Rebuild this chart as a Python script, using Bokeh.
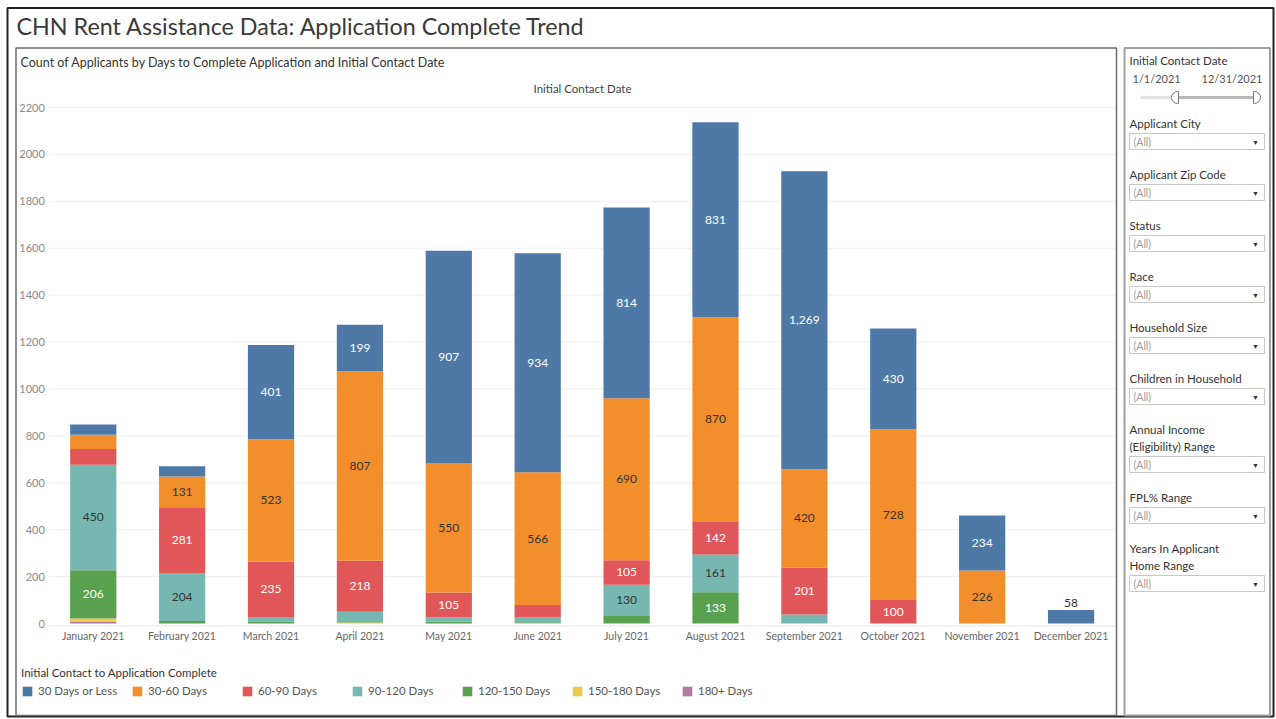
from bokeh.plotting import figure
from bokeh.models import (ColumnDataSource, Range1d, FixedTicker, LinearScale,
                          Label, BoxAnnotation, Legend, LegendItem)
from bokeh.core.properties import value
from bokeh.embed import file_html
from bokeh.resources import INLINE

# ---------------- data ----------------
months = ["January 2021", "February 2021", "March 2021", "April 2021", "May 2021",
          "June 2021", "July 2021", "August 2021", "September 2021", "October 2021",
          "November 2021", "December 2021"]
categories = ["30 Days or Less", "30-60 Days", "60-90 Days", "90-120 Days",
              "120-150 Days", "150-180 Days", "180+ Days"]
colors = ["#4e79a7", "#f28e2b", "#e15759", "#76b7b2", "#59a14f", "#edc948", "#b07aa1"]
label_colors = ["white", "#333333", "white", "#333333", "white", "#333333", "white"]

d_30_or_less = [43, 43, 401, 199, 907, 934, 814, 831, 1269, 430, 234, 58]
d_30_60 = [61, 131, 523, 807, 550, 566, 690, 870, 420, 728, 226, 0]
d_60_90 = [67, 281, 235, 218, 105, 53, 105, 142, 201, 100, 0, 0]
d_90_120 = [450, 204, 20, 40, 20, 21, 130, 161, 38, 0, 0, 0]
d_120_150 = [206, 11, 8, 6, 7, 4, 35, 133, 0, 0, 0, 0]
d_150_180 = [15, 0, 0, 4, 0, 1, 0, 0, 0, 0, 0, 0]
d_180_plus = [6, 0, 0, 0, 0, 0, 0, 0, 0, 0, 0, 0]
series = [d_30_or_less, d_30_60, d_60_90, d_90_120, d_120_150, d_150_180, d_180_plus]

y_ticks = [0, 200, 400, 600, 800, 1000, 1200, 1400, 1600, 1800, 2000, 2200]

title_text = "CHN Rent Assistance Data: Application Complete Trend"
subtitle_text = "Count of Applicants by Days to Complete Application and Initial Contact Date"
header_text = "Initial Contact Date"
legend_title = "Initial Contact to Application Complete"
slider_title = "Initial Contact Date"
slider_start = "1/1/2021"
slider_end = "12/31/2021"
filters = [["Applicant City"], ["Applicant Zip Code"], ["Status"], ["Race"],
           ["Household Size"], ["Children in Household"],
           ["Annual Income", "(Eligibility) Range"], ["FPL%  Range"],
           ["Years In Applicant", "Home Range"]]
filter_value = "(All)"

FONT = "Lato"

# ---------------- layout geometry (page pixels) ----------------
W, H = 1276, 719
X0, X1 = 48.3, 1115.0          # plot area left/right
Y_ZERO, Y_TOP_TICK = 623.0, 107.0  # page y of value 0 and of 2200
kx = (X1 - X0) / len(months)
ky = (Y_ZERO - Y_TOP_TICK) / y_ticks[-1]

p = figure(width=W, height=H,
           x_range=Range1d(-X0 / kx, (W - X0) / kx),
           y_range=Range1d((Y_ZERO - H) / ky, Y_ZERO / ky),
           output_backend="svg", toolbar_location=None,
           min_border_left=0, min_border_right=0, min_border_top=0, min_border_bottom=0)
p.background_fill_color = "white"
p.border_fill_color = "white"
p.outline_line_color = None

# page-pixel coordinate system
p.extra_x_ranges = {"px": Range1d(0, W)}
p.extra_x_scales = {"px": LinearScale()}
p.extra_y_ranges = {"py": Range1d(H, 0)}
p.extra_y_scales = {"py": LinearScale()}

# gridlines within plot area
grid_vals = [t for t in y_ticks if t > 0]
p.segment(x0=[X0] * len(grid_vals), x1=[X1] * len(grid_vals),
          y0=[Y_ZERO - v * ky for v in grid_vals], y1=[Y_ZERO - v * ky for v in grid_vals],
          x_range_name="px", y_range_name="py", line_color="#f0f0f0", line_width=1)
p.segment(x0=[X0], x1=[X1], y0=[625.5], y1=[625.5], x_range_name="px", y_range_name="py",
          line_color="#e6e6e6", line_width=1)

xpos = [i + 0.5 for i in range(len(months))]
keys = ["s%d" % i for i in range(7)]
data = {"x": xpos}
for k, s in zip(keys, series):
    data[k] = s
src = ColumnDataSource(data)

stack_order = list(reversed(range(7)))  # bottom (180+) to top (30 or less)
rends = p.vbar_stack([keys[i] for i in stack_order], x="x", width=0.52,
                     color=[colors[i] for i in stack_order], line_color=None,
                     source=src)
rmap = {i: r for i, r in zip(stack_order, rends)}

# labels inside segments
lx, ly, lt, lc = [], [], [], []
ax, ay, at = [], [], []
for j, xv in enumerate(xpos):
    base = 0
    for i in stack_order:
        v = series[i][j]
        if v >= 100:
            lx.append(xv); ly.append(base + v / 2.0); lt.append(f"{v:,}"); lc.append(label_colors[i])
        base += v
    if base < 100:
        ax.append(xv); ay.append(base); at.append(f"{base:,}")

p.text(x="x", y="y", text="t", text_color="c",
       source=ColumnDataSource(dict(x=lx, y=ly, t=lt, c=lc)),
       text_font=value(FONT), text_font_size=value("12px"),
       text_align="center", text_baseline="middle")
p.text(x="x", y="y", text="t",
       source=ColumnDataSource(dict(x=ax, y=ay, t=at)),
       text_font=value(FONT), text_font_size=value("12px"), text_color="#333333",
       text_align="center", text_baseline="bottom", y_offset=-3)

# axes drawn inside the frame at fixed locations
p.yaxis.fixed_location = 0
p.yaxis.ticker = FixedTicker(ticks=y_ticks)
p.yaxis.axis_line_color = None
p.yaxis.major_tick_line_color = None
p.yaxis.minor_tick_line_color = None
p.yaxis.major_tick_out = 0
p.yaxis.major_tick_in = 0
p.yaxis.major_label_text_font = FONT
p.yaxis.major_label_text_font_size = "11px"
p.yaxis.major_label_text_color = "#8a8a8a"
p.yaxis.major_label_standoff = 4

p.xaxis.fixed_location = (Y_ZERO - 625.5) / ky
p.xaxis.ticker = FixedTicker(ticks=xpos)
p.xaxis.major_label_overrides = {xv: m for xv, m in zip(xpos, months)}
p.xaxis.axis_line_color = None
p.xaxis.major_tick_line_color = None
p.xaxis.minor_tick_line_color = None
p.xaxis.major_tick_out = 0
p.xaxis.major_tick_in = 0
p.xaxis.major_label_text_font = FONT
p.xaxis.major_label_text_font_size = "10.5px"
p.xaxis.major_label_text_color = "#666666"
p.xaxis.major_label_standoff = 4

p.xgrid.visible = False
p.ygrid.visible = False

# legend
items = [LegendItem(label=categories[i], renderers=[rmap[i]]) for i in range(7)]
leg = Legend(items=items, orientation="horizontal", location=(21, H - 697),
             title=legend_title, title_text_font=FONT, title_text_font_size="11.5px",
             title_text_color="#333333", title_text_font_style="normal", title_standoff=5,
             label_text_font=FONT, label_text_font_size="11.5px", label_text_color="#555555",
             glyph_width=12, glyph_height=12, label_standoff=5, label_width=93, spacing=0,
             padding=0, margin=0, border_line_color=None, background_fill_alpha=0,
             label_height=12)
p.add_layout(leg, "center")

# ---------------- decorations in page coordinates ----------------
def box(l, r, t, b, fill=None, line="#666666", lw=1.0, radius=0):
    kw = dict(left=l, right=r, top=t, bottom=b, x_range_name="px", y_range_name="py",
              fill_color=fill, fill_alpha=1.0 if fill else 0.0,
              line_color=line, line_width=lw, line_alpha=1.0 if line else 0.0)
    if radius:
        kw["border_radius"] = radius
    p.add_layout(BoxAnnotation(**kw))

def text(x, y, s, size="11.5px", color="#333333", align="left"):
    p.add_layout(Label(x=x, y=y, text=s, x_range_name="px", y_range_name="py",
                       text_font=FONT, text_font_size=size, text_color=color,
                       text_align=align, text_baseline="middle"))

# outer border and panels
box(7, 1273, 7.5, 716, line="#222222", lw=2)
box(15.5, 1116, 47.5, 715, line="#6a6a6a", lw=1.5)
box(1124, 1269.5, 47.5, 715, line="#a0a0a0", lw=2)

text(16, 25, title_text, size="23.3px", color="#3a3a3a")
text(20, 62, subtitle_text, size="12.5px", color="#333333")
text(582, 88, header_text, size="11.5px", color="#444444", align="center")

# filter panel
text(1129, 60, slider_title, size="11.5px")
text(1132, 78, slider_start, size="11px", color="#555555")
text(1262, 78, slider_end, size="11px", color="#555555", align="right")
box(1140, 1258, 95.5, 98.5, fill="#e2e2e2", line=None)
box(1176, 1258, 95.5, 98.5, fill="#b8b8b8", line=None)
box(1171, 1178, 91, 103, fill="white", line="#777777", lw=1, radius=(6, 0, 0, 6))
box(1253, 1260, 91, 103, fill="white", line="#777777", lw=1, radius=(0, 6, 6, 0))

y = 123
for lines in filters:
    for n, ln in enumerate(lines):
        text(1129, y + 17 * n, ln, size="11.5px")
    last = y + 17 * (len(lines) - 1)
    top = last + 10
    box(1129, 1264, top, top + 16, fill="white", line="#c8c8c8", lw=1)
    text(1133, top + 8, filter_value, size="10.5px", color="#9a9a9a")
    text(1255, top + 8.5, "\u25BC", size="7px", color="#333333", align="center")
    y += 51 + 17 * (len(lines) - 1)

open("out.html", "w").write(file_html(p, INLINE))
